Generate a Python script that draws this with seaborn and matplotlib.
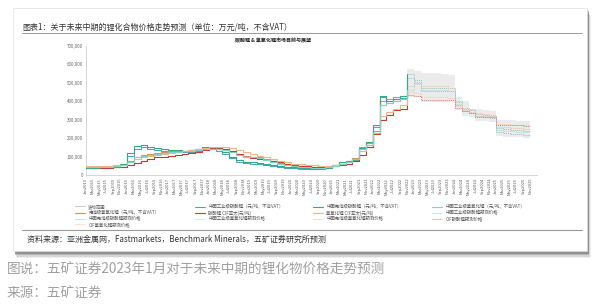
import numpy as np
import pandas as pd
import matplotlib
matplotlib.use("Agg")
import matplotlib.pyplot as plt
import seaborn as sns
from matplotlib.lines import Line2D
from matplotlib.patches import Rectangle

# ---------------- data (thousand CNY / t, bimonthly) ----------------
dates = pd.date_range("2015-01-01", periods=66, freq="2MS")   # Jan2015 .. Nov2025
n_act = 48                                                     # Jan2015 .. Nov2022
f_start = 47                                                   # forecasts start Nov2022

china_ind_carbonate = [36, 36, 37, 38, 42, 58,
                       105, 140, 150, 140, 135, 130,
                       128, 125, 122, 125, 130, 140,
                       140, 130, 115, 90, 70, 65,
                       60, 58, 55, 50, 45, 40,
                       37, 35, 33, 32, 33, 38,
                       52, 70, 75, 80, 140, 175,
                       260, 420, 390, 400, 415, 525]
battery_hydroxide = [45, 45, 46, 48, 52, 60,
                     75, 100, 110, 115, 120, 125,
                     128, 130, 132, 135, 140, 145,
                     148, 145, 140, 130, 115, 105,
                     100, 95, 85, 75, 65, 58,
                     52, 48, 45, 42, 42, 44,
                     50, 60, 70, 90, 150, 175,
                     240, 400, 410, 420, 430, 480]
carbonate_cif = [38, 38, 38, 40, 42, 45,
                 55, 65, 75, 85, 95, 100,
                 105, 110, 115, 120, 125, 135,
                 145, 145, 140, 130, 115, 100,
                 90, 85, 80, 75, 68, 62,
                 55, 50, 47, 45, 44, 45,
                 50, 55, 60, 75, 110, 150,
                 220, 300, 325, 350, 360, 435]
china_bat_carbonate = [40, 40, 41, 42, 45, 62,
                       120, 155, 160, 150, 145, 140,
                       138, 135, 130, 135, 140, 150,
                       150, 140, 125, 100, 80, 72,
                       68, 66, 62, 56, 50, 46,
                       42, 40, 37, 35, 36, 40,
                       55, 72, 78, 85, 145, 180,
                       270, 430, 400, 410, 425, 545]
hydroxide_cif = [48, 48, 48, 50, 52, 55,
                 70, 85, 95, 105, 110, 115,
                 120, 125, 130, 135, 140, 148,
                 152, 152, 150, 145, 135, 125,
                 115, 105, 95, 85, 75, 68,
                 62, 58, 55, 52, 50, 50,
                 55, 62, 70, 85, 130, 165,
                 230, 320, 340, 360, 380, 450]
china_ind_hydroxide = [42, 42, 43, 45, 48, 56,
                       70, 95, 105, 110, 115, 120,
                       122, 125, 128, 130, 135, 140,
                       143, 140, 134, 124, 110, 100,
                       95, 90, 80, 70, 60, 54,
                       48, 45, 42, 40, 40, 42,
                       48, 58, 68, 85, 140, 165,
                       225, 380, 390, 400, 410, 460]

# forecasts Nov2022 .. Nov2025
fc_bat_carbonate = [545, 515, 470, 470, 470, 470, 470, 395, 360, 350, 330, 325, 320, 255, 250, 245, 245, 240, 240]
fc_ind_hydroxide = [460, 490, 462, 462, 462, 462, 455, 385, 350, 342, 322, 318, 312, 245, 240, 236, 234, 232, 232]
fc_bat_hydroxide = [480, 505, 480, 480, 480, 480, 470, 400, 365, 355, 335, 330, 325, 262, 258, 255, 252, 250, 250]
fc_ind_carbonate = [525, 500, 455, 455, 455, 455, 455, 380, 345, 335, 318, 312, 308, 235, 228, 222, 220, 218, 218]
fc_hydroxide_cif = [450, 445, 420, 420, 420, 420, 415, 375, 350, 342, 322, 320, 318, 278, 275, 272, 272, 270, 270]
fc_carbonate_cif = [435, 430, 405, 405, 405, 405, 405, 365, 345, 338, 315, 315, 313, 272, 270, 268, 268, 266, 266]
band_upper = [575, 565, 550, 550, 550, 545, 540, 420, 400, 360, 355, 350, 345, 300, 300, 300, 295, 295, 295]
band_lower = [420, 420, 395, 395, 395, 395, 395, 350, 320, 315, 295, 290, 285, 210, 208, 205, 205, 203, 203]

yticks = [0, 100000, 200000, 300000, 400000, 500000, 600000, 700000]

title = "图表1：关于未来中期的锂化合物价格走势预测（单位：万元/吨，不含VAT）"
inner_title = "碳酸锂 & 氢氧化锂市场目前与展望"
source = "资料来源：亚洲金属网，Fastmarkets，Benchmark Minerals，五矿证券研究所预测"
caption1 = "图说：五矿证券2023年1月对于未来中期的锂化物价格走势预测"
caption2 = "来源：五矿证券"

actual = [
    ("中国工业级碳酸锂（元/吨，不含VAT）", china_ind_carbonate, "#4ea6bd"),
    ("电池级氢氧化锂（元/吨，不含VAT）", battery_hydroxide, "#d8925c"),
    ("碳酸锂 CIF亚太(元/吨)", carbonate_cif, "#c23b32"),
    ("中国电池级碳酸锂（元/吨，不含VAT）", china_bat_carbonate, "#35a889"),
    ("氢氧化锂 CIF亚太(元/吨)", hydroxide_cif, "#eeb48a"),
    ("中国工业级氢氧化锂（元/吨，不含VAT）", china_ind_hydroxide, "#86cfc5"),
]
forecast = [
    ("中国电池级碳酸锂预测价格", fc_bat_carbonate, "#8fc9bb"),
    ("中国工业级氢氧化锂预测价格", fc_ind_hydroxide, "#a9dcd5"),
    ("中国电池级氢氧化锂预测价格", fc_bat_hydroxide, "#e6bf9f"),
    ("中国工业级碳酸锂预测价格", fc_ind_carbonate, "#93c4d8"),
    ("CIF氢氧化锂预测价格", fc_hydroxide_cif, "#f0c8a8"),
    ("CIF碳酸锂预测价格", fc_carbonate_cif, "#d97a7a"),
]

# ---------------- figure ----------------
sns.set_theme(style="white")
plt.rcParams["font.family"] = ["Noto Sans CJK SC", "DejaVu Sans"]
plt.rcParams["axes.unicode_minus"] = False

W, H = 600, 304
fig = plt.figure(figsize=(6, 3.04), dpi=100)
fig.patch.set_facecolor("white")


def fx(x):
    return x / W


def fy(y):
    return 1 - y / H


# card shadow + card
for off, a in [(7, 0.10), (5.5, 0.18), (4, 0.3), (2.5, 0.45), (1.2, 0.6)]:
    fig.patches.append(Rectangle((fx(13 + off * 0.6), fy(251 + off)), 574 / W, 243 / H,
                                 transform=fig.transFigure, facecolor="#666666", alpha=a,
                                 edgecolor="none", zorder=-3))
fig.patches.append(Rectangle((fx(13), fy(251)), 574 / W, 243 / H, transform=fig.transFigure,
                             facecolor="white", edgecolor="#e2e2e2", lw=0.5, zorder=-2))

fig.text(fx(22), fy(27), title, fontsize=5.8, color="#333333", ha="left", va="center")
fig.add_artist(Line2D([fx(22), fx(582)], [fy(33), fy(33)], color="#8a8a8a", lw=0.6,
                      transform=fig.transFigure))
fig.text(fx(273), fy(40.5), inner_title, fontsize=3.6, fontweight="bold", color="#222222",
         ha="center", va="center")

ax = fig.add_axes([fx(86), fy(175), (537 - 86) / W, (175 - 45.7) / H])
ax.set_facecolor("none")
ax.set_zorder(1)

fdates = dates[f_start:]
ax.fill_between(fdates, np.array(band_lower) * 1000, np.array(band_upper) * 1000,
                step="post", color="#ebebeb", lw=0, zorder=1)

handles = {}
for lab, vals, col in actual:
    sns.lineplot(x=dates[:n_act], y=np.array(vals) * 1000, ax=ax, color=col, lw=0.8,
                 drawstyle="steps-post", zorder=3)
    handles[lab] = Line2D([], [], color=col, lw=0.8)
for lab, vals, col in forecast:
    sns.lineplot(x=fdates, y=np.array(vals) * 1000, ax=ax, color=col, lw=0.7,
                 linestyle=(0, (1, 1)), drawstyle="steps-post", zorder=2)
    handles[lab] = Line2D([], [], color=col, lw=0.7, linestyle=(0, (1, 1)))
handles["波动范围"] = Line2D([], [], color="#cfcfcf", lw=0.8)

ax.set_xlim(dates[0], pd.Timestamp("2026-01-01"))
ax.set_ylim(0, 700000)
ax.set_yticks(yticks)
ax.set_yticklabels([f"{v:,}" for v in yticks], fontsize=3.2, color="#666666")
ax.set_xticks(dates)
ax.set_xticklabels([d.strftime("%b%Y") for d in dates], rotation=90, fontsize=2.9,
                   color="#555555")
ax.tick_params(axis="both", length=0, pad=2)
ax.set_xlabel("")
ax.set_ylabel("")
for s in ["top", "right"]:
    ax.spines[s].set_visible(False)
for s in ["left", "bottom"]:
    ax.spines[s].set_color("#d0d0d0")
    ax.spines[s].set_linewidth(0.6)
ax.grid(False)

cols = [
    (75, ["波动范围", "电池级氢氧化锂（元/吨，不含VAT）", "中国电池级碳酸锂预测价格", "CIF氢氧化锂预测价格"]),
    (195, ["中国工业级碳酸锂（元/吨，不含VAT）", "碳酸锂 CIF亚太(元/吨)", "中国工业级氢氧化锂预测价格"]),
    (313, ["中国电池级碳酸锂（元/吨，不含VAT）", "氢氧化锂 CIF亚太(元/吨)", "中国电池级氢氧化锂预测价格"]),
    (432, ["中国工业级氢氧化锂（元/吨，不含VAT）", "中国工业级碳酸锂预测价格", "CIF碳酸锂预测价格"]),
]
for x0, labs in cols:
    lg = fig.legend([handles[l] for l in labs], labs, loc="upper left",
                    bbox_to_anchor=(fx(x0), fy(204)), frameon=False, fontsize=3.2,
                    handlelength=2.3, handletextpad=0.7, labelspacing=0.2, borderpad=0,
                    borderaxespad=0)
    for t in lg.get_texts():
        t.set_color("#555555")

fig.add_artist(Line2D([fx(22), fx(582)], [fy(230), fy(230)], color="#9a9a9a", lw=0.8,
                      transform=fig.transFigure))
fig.text(fx(27), fy(239), source, fontsize=5.8, color="#333333", ha="left", va="center")

fig.text(fx(7), fy(270), caption1, fontsize=9.8, color="#a0a0a0", ha="left", va="center")
fig.text(fx(7), fy(293), caption2, fontsize=9.8, color="#a0a0a0", ha="left", va="center")

fig.savefig("out.png", dpi=100)
